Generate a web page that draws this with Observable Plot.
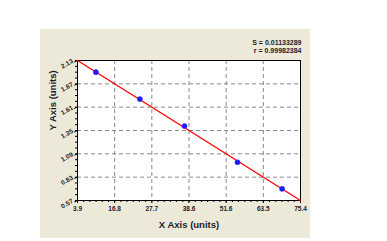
<!DOCTYPE html>
<html>
<head>
<meta charset="utf-8">
<script src="https://cdn.jsdelivr.net/npm/d3@7"></script>
<script src="https://cdn.jsdelivr.net/npm/@observablehq/plot@0.6"></script>
<style>
  html, body { margin: 0; padding: 0; background: #ffffff; }
  #wrap { position: relative; width: 387px; height: 241px; overflow: hidden; }
  #panel { position: absolute; left: 40px; top: 29px; width: 270px; height: 209px; background: #ECE9D8; }
  #chart { position: absolute; left: 0; top: 0; }
</style>
</head>
<body>
<div id="wrap"><div id="panel"></div><div id="chart"></div></div>
<script>
// Data
const pointX = [9.8, 23.9, 38.2, 55.2, 69.5];
const pointY = [2.00, 1.70, 1.40, 0.996, 0.70];
const lineX = [3.9, 75.4];
const lineY = [2.13, 0.57];
const xTickLabels = ["3.9", "16.8", "27.7", "38.6", "51.6", "63.5", "75.4"];
const yTickLabels = ["2.13", "1.87", "1.61", "1.35", "1.09", "0.83", "0.57"];
const statLines = ["S = 0.01133289", "r = 0.99982384"];
const xTitle = "X Axis (units)";
const yTitle = "Y Axis (units)";

const xMin = +xTickLabels[0], xMax = +xTickLabels[xTickLabels.length - 1];
const yMin = +yTickLabels[yTickLabels.length - 1], yMax = +yTickLabels[0];
const xStep = (xMax - xMin) / (xTickLabels.length - 1);
const xTicks = xTickLabels.map((_, i) => xMin + i * xStep);
const yTicks = yTickLabels.map(Number);
const yStep = (yMax - yMin) / (yTickLabels.length - 1);
const xMinor = d3.range(0, (xTickLabels.length - 1) * 6 + 1).map(i => xMin + i * xStep / 6);
const yMinor = d3.range(0, (yTickLabels.length - 1) * 4 + 1).map(i => yMin + i * yStep / 4);

const points = pointX.map((x, i) => ({x, y: pointY[i]}));
const fitLine = lineX.map((x, i) => ({x, y: lineY[i]}));
const ink = "#1b1b2b";

const chart = Plot.plot({
  width: 387,
  height: 241,
  marginLeft: 77,
  marginRight: 87,
  marginTop: 60,
  marginBottom: 41,
  style: {background: "transparent", fontFamily: "Liberation Sans, Arial, sans-serif", color: ink},
  x: {domain: [xMin, xMax], label: null},
  y: {domain: [yMin, yMax], label: null},
  marks: [
    Plot.frame({fill: "white", stroke: "none"}),
    Plot.gridX(xTicks.slice(1, -1), {stroke: "#8a8a8a", strokeOpacity: 1, strokeDasharray: "4,3"}),
    Plot.gridY(yTicks.slice(1, -1), {stroke: "#8a8a8a", strokeOpacity: 1, strokeDasharray: "4,3"}),
    Plot.frame({stroke: "black", strokeWidth: 1}),
    Plot.axisX(xMinor, {tickSize: 2, text: null, stroke: "black", label: null}),
    Plot.axisY(yMinor, {tickSize: 2, text: null, stroke: "black", label: null}),
    Plot.axisX(xTicks, {
      tickSize: 3, tickPadding: 3, stroke: "black",
      tickFormat: (d, i) => xTickLabels[i],
      fontSize: 6.5, fontWeight: "bold", label: null
    }),
    Plot.axisY(yTicks, {
      tickSize: 3, tickPadding: 2, stroke: "black",
      tickFormat: (d) => yTickLabels[yTicks.indexOf(d)],
      fontSize: 6.5, fontWeight: "bold", rotate: -30, textAnchor: "end", label: null
    }),
    Plot.line(fitLine, {x: "x", y: "y", stroke: "#ff0000", strokeWidth: 1.3}),
    Plot.dot(points, {x: "x", y: "y", r: 2.6, fill: "#1a1aff", stroke: "#3a3aff", strokeWidth: 0.5}),
    Plot.text([statLines[0]], {
      frameAnchor: "top-right", text: d => d, dx: 1, dy: -20,
      fontSize: 7, fontWeight: "bold", textAnchor: "end", fill: ink
    }),
    Plot.text([statLines[1]], {
      frameAnchor: "top-right", text: d => d, dx: 1, dy: -12,
      fontSize: 7, fontWeight: "bold", textAnchor: "end", fill: ink
    }),
    Plot.text([xTitle], {
      frameAnchor: "bottom", text: d => d, dy: 27,
      fontSize: 9.5, fontWeight: "bold", fill: ink
    }),
    Plot.text([yTitle], {
      frameAnchor: "left", text: d => d, dx: -25, rotate: -90,
      fontSize: 9.5, fontWeight: "bold", fill: ink
    })
  ]
});
document.getElementById("chart").appendChild(chart);
</script>
</body>
</html>
